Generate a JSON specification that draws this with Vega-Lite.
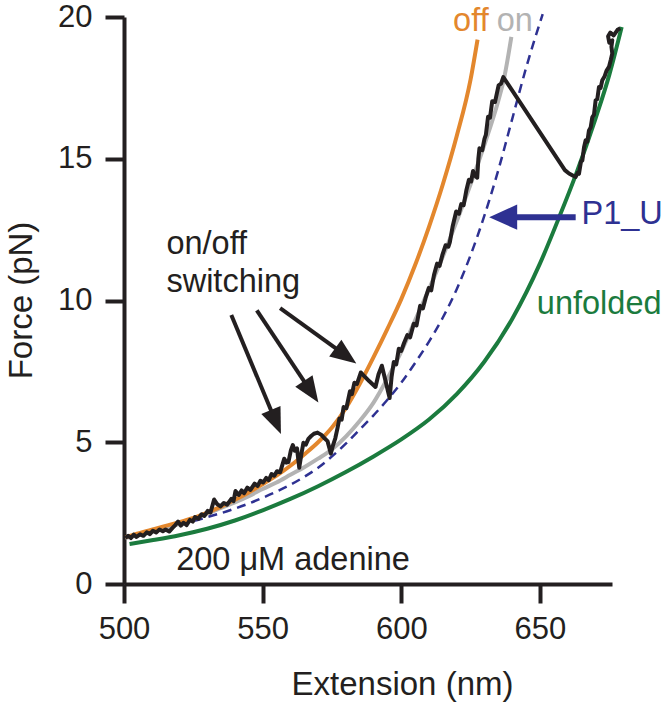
{
  "$schema": "https://vega.github.io/schema/vega-lite/v6.json",
  "width": 488,
  "height": 567,
  "autosize": {"type": "none"},
  "padding": {"left": 124, "top": 17, "right": 55, "bottom": 120},
  "background": "white",
  "config": {
    "view": {"stroke": null},
    "font": "Liberation Sans",
    "axis": {
      "domainColor": "#231f20", "domainWidth": 4, "tickColor": "#231f20", "tickWidth": 4, "tickSize": 19,
      "labelFont": "Liberation Sans", "labelFontSize": 31, "labelColor": "#231f20", "labelFlush": false, "labelOverlap": false,
      "titleFont": "Liberation Sans", "titleFontSize": 33, "titleFontWeight": "normal", "titleColor": "#231f20", "grid": false
    }
  },
  "datasets": {
    "off": [
      {"x": 500.5, "y": 1.65}, {"x": 505, "y": 1.78}, {"x": 510, "y": 1.92}, {"x": 515, "y": 2.05}, {"x": 520, "y": 2.18},
      {"x": 525, "y": 2.33}, {"x": 530, "y": 2.52}, {"x": 535, "y": 2.73}, {"x": 540, "y": 2.97}, {"x": 545, "y": 3.23},
      {"x": 550, "y": 3.52}, {"x": 555, "y": 3.82}, {"x": 560, "y": 4.17}, {"x": 565, "y": 4.57}, {"x": 570, "y": 5.0},
      {"x": 575, "y": 5.52}, {"x": 580, "y": 6.2}, {"x": 585, "y": 7.05}, {"x": 590, "y": 8.0}, {"x": 595, "y": 9.0},
      {"x": 600, "y": 10.05}, {"x": 605, "y": 11.25}, {"x": 610, "y": 12.6}, {"x": 615, "y": 14.1}, {"x": 620, "y": 15.8},
      {"x": 625, "y": 17.8}, {"x": 627.5, "y": 19.2}
    ],
    "on": [
      {"x": 500.5, "y": 1.62}, {"x": 505, "y": 1.72}, {"x": 510, "y": 1.84}, {"x": 515, "y": 1.97}, {"x": 520, "y": 2.12},
      {"x": 525, "y": 2.3}, {"x": 530, "y": 2.48}, {"x": 535, "y": 2.68}, {"x": 540, "y": 2.88}, {"x": 545, "y": 3.1},
      {"x": 550, "y": 3.35}, {"x": 555, "y": 3.58}, {"x": 560, "y": 3.85}, {"x": 565, "y": 4.12}, {"x": 570, "y": 4.42},
      {"x": 575, "y": 4.75}, {"x": 580, "y": 5.2}, {"x": 585, "y": 5.75}, {"x": 590, "y": 6.4}, {"x": 595, "y": 7.25},
      {"x": 600, "y": 8.2}, {"x": 605, "y": 9.3}, {"x": 610, "y": 10.4}, {"x": 615, "y": 11.55}, {"x": 620, "y": 12.8},
      {"x": 625, "y": 14.1}, {"x": 630, "y": 15.5}, {"x": 635, "y": 17.05}, {"x": 637, "y": 17.8}, {"x": 639.7, "y": 19.3}
    ],
    "p1u": [
      {"x": 520, "y": 2.1}, {"x": 525, "y": 2.22}, {"x": 530, "y": 2.36}, {"x": 535, "y": 2.5}, {"x": 540, "y": 2.66},
      {"x": 545, "y": 2.84}, {"x": 550, "y": 3.04}, {"x": 555, "y": 3.26}, {"x": 560, "y": 3.5}, {"x": 565, "y": 3.78},
      {"x": 570, "y": 4.1}, {"x": 575, "y": 4.5}, {"x": 580, "y": 4.95}, {"x": 585, "y": 5.45}, {"x": 590, "y": 5.95},
      {"x": 595, "y": 6.5}, {"x": 600, "y": 7.1}, {"x": 605, "y": 7.8}, {"x": 610, "y": 8.55}, {"x": 615, "y": 9.4},
      {"x": 620, "y": 10.4}, {"x": 625, "y": 11.6}, {"x": 630, "y": 13.0}, {"x": 635, "y": 14.6}, {"x": 640, "y": 16.4},
      {"x": 645, "y": 18.2}, {"x": 651, "y": 20.1}
    ],
    "unfolded": [
      {"x": 502, "y": 1.41}, {"x": 510, "y": 1.54}, {"x": 520, "y": 1.72}, {"x": 530, "y": 1.95}, {"x": 540, "y": 2.24},
      {"x": 550, "y": 2.6}, {"x": 560, "y": 3.0}, {"x": 570, "y": 3.45}, {"x": 580, "y": 3.95}, {"x": 590, "y": 4.5},
      {"x": 600, "y": 5.1}, {"x": 610, "y": 5.8}, {"x": 620, "y": 6.7}, {"x": 630, "y": 7.85}, {"x": 640, "y": 9.35},
      {"x": 650, "y": 11.3}, {"x": 657, "y": 12.95}, {"x": 663, "y": 14.45}, {"x": 670, "y": 16.4}, {"x": 675, "y": 17.95},
      {"x": 679.5, "y": 19.65}
    ],
    "trace": [
      {"x": 500.5, "y": 1.62}, {"x": 501.5, "y": 1.7}, {"x": 502.5, "y": 1.62}, {"x": 503.5, "y": 1.74}, {"x": 504.5, "y": 1.66},
      {"x": 505.8, "y": 1.75}, {"x": 507, "y": 1.7}, {"x": 508.2, "y": 1.82}, {"x": 509.4, "y": 1.76}, {"x": 510.4, "y": 1.88},
      {"x": 511.6, "y": 1.82}, {"x": 512.8, "y": 1.92}, {"x": 514, "y": 1.86}, {"x": 515, "y": 1.92}, {"x": 516.3, "y": 1.85},
      {"x": 517.5, "y": 1.98}, {"x": 518.5, "y": 2.08}, {"x": 519.5, "y": 2.2}, {"x": 520.5, "y": 2.06}, {"x": 521.5, "y": 2.16},
      {"x": 522.6, "y": 2.08}, {"x": 523.8, "y": 2.26}, {"x": 524.8, "y": 2.2}, {"x": 525.6, "y": 2.36}, {"x": 526.8, "y": 2.3},
      {"x": 528, "y": 2.46}, {"x": 529, "y": 2.4}, {"x": 530.2, "y": 2.58}, {"x": 531.2, "y": 2.52}, {"x": 532.5, "y": 2.98},
      {"x": 533.6, "y": 2.82}, {"x": 534.8, "y": 2.74}, {"x": 536, "y": 2.86}, {"x": 537.2, "y": 2.8}, {"x": 538.7, "y": 3.0},
      {"x": 539.5, "y": 2.92}, {"x": 540.2, "y": 3.28}, {"x": 541.4, "y": 3.14}, {"x": 542.4, "y": 3.3}, {"x": 543.3, "y": 3.2},
      {"x": 544.5, "y": 3.4}, {"x": 545.6, "y": 3.32}, {"x": 547.1, "y": 3.54}, {"x": 548.2, "y": 3.46}, {"x": 549.2, "y": 3.64},
      {"x": 550.2, "y": 3.58}, {"x": 551.3, "y": 3.74}, {"x": 552.2, "y": 3.66}, {"x": 553.2, "y": 3.88}, {"x": 554.2, "y": 3.82},
      {"x": 555.2, "y": 3.98}, {"x": 556.3, "y": 3.94}, {"x": 557.8, "y": 4.42}, {"x": 558.5, "y": 4.28}, {"x": 559.3, "y": 4.3},
      {"x": 560.2, "y": 4.72}, {"x": 560.9, "y": 4.9}, {"x": 561.6, "y": 4.7}, {"x": 562.4, "y": 4.78}, {"x": 563.2, "y": 4.1},
      {"x": 564.0, "y": 4.6}, {"x": 564.7, "y": 4.98}, {"x": 565.6, "y": 4.92}, {"x": 566.5, "y": 5.12}, {"x": 567.5, "y": 5.22},
      {"x": 568.5, "y": 5.3}, {"x": 569.8, "y": 5.34}, {"x": 571.2, "y": 5.26}, {"x": 572.5, "y": 5.12}, {"x": 573.4, "y": 5.04},
      {"x": 574.6, "y": 4.6}, {"x": 575.4, "y": 4.9}, {"x": 576.2, "y": 5.14}, {"x": 577.0, "y": 5.5}, {"x": 577.7, "y": 5.84},
      {"x": 578.5, "y": 5.8}, {"x": 579.2, "y": 6.24}, {"x": 580.2, "y": 6.2}, {"x": 581.5, "y": 6.8}, {"x": 582.2, "y": 6.7},
      {"x": 583.1, "y": 7.1}, {"x": 584.0, "y": 7.05}, {"x": 585.4, "y": 7.46}, {"x": 586.2, "y": 7.38}, {"x": 588.5, "y": 7.15},
      {"x": 590.7, "y": 6.95}, {"x": 591.8, "y": 7.4}, {"x": 593.0, "y": 7.7}, {"x": 595.8, "y": 6.56}, {"x": 596.5, "y": 7.3},
      {"x": 597.3, "y": 7.83}, {"x": 598.2, "y": 7.75}, {"x": 599.1, "y": 8.3}, {"x": 600.0, "y": 8.22}, {"x": 601.0, "y": 8.5},
      {"x": 602.2, "y": 8.78}, {"x": 603.2, "y": 8.7}, {"x": 604.5, "y": 9.18}, {"x": 605.5, "y": 9.12}, {"x": 606.8, "y": 9.81},
      {"x": 607.8, "y": 9.72}, {"x": 608.8, "y": 10.1}, {"x": 609.9, "y": 10.44}, {"x": 610.8, "y": 10.36}, {"x": 611.8, "y": 10.9},
      {"x": 612.9, "y": 11.3}, {"x": 613.8, "y": 11.22}, {"x": 614.8, "y": 11.6}, {"x": 616.0, "y": 11.95}, {"x": 617.0, "y": 11.9},
      {"x": 617.5, "y": 12.05}, {"x": 618.5, "y": 12.6}, {"x": 619.8, "y": 13.14}, {"x": 620.8, "y": 13.06}, {"x": 621.6, "y": 13.4},
      {"x": 622.5, "y": 13.36}, {"x": 623.5, "y": 13.9}, {"x": 624.4, "y": 14.26}, {"x": 625.2, "y": 14.2}, {"x": 625.9, "y": 14.57},
      {"x": 626.6, "y": 14.4}, {"x": 627.4, "y": 14.33}, {"x": 627.8, "y": 15.0}, {"x": 628.2, "y": 15.37}, {"x": 629.2, "y": 15.3},
      {"x": 630.0, "y": 15.7}, {"x": 630.5, "y": 15.84}, {"x": 631.3, "y": 16.48}, {"x": 632.0, "y": 16.45}, {"x": 632.8, "y": 17.03},
      {"x": 633.8, "y": 17.0}, {"x": 635.1, "y": 17.59}, {"x": 636.0, "y": 17.65}, {"x": 636.8, "y": 17.88}, {"x": 659.0, "y": 14.6},
      {"x": 660.5, "y": 14.48}, {"x": 662.0, "y": 14.4}, {"x": 662.9, "y": 14.36}, {"x": 663.6, "y": 14.5}, {"x": 664.1, "y": 14.47},
      {"x": 664.8, "y": 14.9}, {"x": 665.3, "y": 14.94}, {"x": 665.9, "y": 15.4}, {"x": 666.5, "y": 15.65}, {"x": 667.1, "y": 15.6},
      {"x": 667.7, "y": 16.0}, {"x": 668.3, "y": 16.1}, {"x": 668.9, "y": 16.47}, {"x": 669.5, "y": 16.55}, {"x": 670.1, "y": 17.06},
      {"x": 670.7, "y": 17.1}, {"x": 671.3, "y": 17.53}, {"x": 671.9, "y": 17.5}, {"x": 672.5, "y": 17.77}, {"x": 673.3, "y": 17.9},
      {"x": 674.0, "y": 18.1}, {"x": 674.9, "y": 18.24}, {"x": 675.6, "y": 18.5}, {"x": 676.1, "y": 18.71}, {"x": 675.8, "y": 18.95},
      {"x": 676.1, "y": 19.18}, {"x": 675.0, "y": 19.1}, {"x": 674.6, "y": 19.32}, {"x": 675.4, "y": 19.45}, {"x": 676.6, "y": 19.35},
      {"x": 678.0, "y": 19.55}, {"x": 679.0, "y": 19.6}
    ],
    "shafts": [
      {"id": "a1", "x": 538.7, "y": 9.49, "x2": 555.2, "y2": 5.62},
      {"id": "a2", "x": 547.9, "y": 9.65, "x2": 568.1, "y2": 6.69},
      {"id": "a3", "x": 556.3, "y": 9.73, "x2": 580.9, "y2": 7.99},
      {"id": "b", "x": 662.9, "y": 12.94, "x2": 638.0, "y2": 12.94}
    ],
    "heads": [
      {"id": "a1", "x": 556.6, "y": 5.29},
      {"id": "a2", "x": 570.1, "y": 6.4},
      {"id": "a3", "x": 583.8, "y": 7.78},
      {"id": "b", "x": 631.7, "y": 12.94}
    ],
    "labels": [
      {"k": "off", "t": "off", "x": 618.7, "y": 19.49},
      {"k": "on", "t": "on", "x": 634.4, "y": 19.49},
      {"k": "P1_U", "t": "P1_U", "x": 665.0, "y": 12.7},
      {"k": "unfolded", "t": "unfolded", "x": 648.9, "y": 9.54},
      {"k": "note", "t": "on/off", "x": 515.3, "y": 11.64},
      {"k": "note", "t": "switching", "x": 515.3, "y": 10.29},
      {"k": "note", "t": "200 μM adenine", "x": 518.8, "y": 0.5}
    ]
  },
  "encoding": {
    "x": {
      "field": "x", "type": "quantitative",
      "scale": {"domain": [500, 676], "nice": false, "zero": false},
      "axis": {"title": "Extension (nm)", "values": [500, 550, 600, 650], "labelPadding": 11,
               "titleX": 278, "titleY": 110, "titleBaseline": "alphabetic", "titleAlign": "center"}
    },
    "y": {
      "field": "y", "type": "quantitative",
      "scale": {"domain": [0, 20], "nice": false},
      "axis": {"title": "Force (pN)", "values": [0, 5, 10, 15, 20], "labelPadding": 13,
               "titleX": -93, "titleY": 283, "titleAngle": -90, "titleBaseline": "alphabetic", "titleAlign": "center"}
    }
  },
  "layer": [
    {"data": {"name": "unfolded"}, "mark": {"type": "line", "color": "#1b7b3e", "strokeWidth": 4, "interpolate": "monotone"}},
    {"data": {"name": "p1u"}, "mark": {"type": "line", "color": "#2e3192", "strokeWidth": 2.5, "strokeDash": [9, 6], "interpolate": "monotone"}},
    {"data": {"name": "on"}, "mark": {"type": "line", "color": "#b3b3b3", "strokeWidth": 4, "interpolate": "monotone"}},
    {"data": {"name": "off"}, "mark": {"type": "line", "color": "#e3872d", "strokeWidth": 4, "interpolate": "monotone"}},
    {"data": {"name": "trace"}, "mark": {"type": "line", "color": "#231f20", "strokeWidth": 4, "strokeJoin": "round"},
     "encoding": {"order": {"value": null}}},
    {"data": {"name": "shafts"}, "transform": [{"filter": "datum.id != 'b'"}],
     "mark": {"type": "rule", "color": "#231f20", "strokeWidth": 4},
     "encoding": {"x2": {"field": "x2"}, "y2": {"field": "y2"}}},
    {"data": {"name": "shafts"}, "transform": [{"filter": "datum.id == 'b'"}],
     "mark": {"type": "rule", "color": "#2e3192", "strokeWidth": 6},
     "encoding": {"x2": {"field": "x2"}, "y2": {"field": "y2"}}},
    {"data": {"name": "heads"}, "transform": [{"filter": "datum.id == 'a1'"}],
     "mark": {"type": "point", "shape": "M0,0L-0.8,2L0.8,2Z", "filled": true, "size": 676, "angle": 157.3, "color": "#231f20", "opacity": 1, "strokeWidth": 0}},
    {"data": {"name": "heads"}, "transform": [{"filter": "datum.id == 'a2'"}],
     "mark": {"type": "point", "shape": "M0,0L-0.8,2L0.8,2Z", "filled": true, "size": 676, "angle": 146.2, "color": "#231f20", "opacity": 1, "strokeWidth": 0}},
    {"data": {"name": "heads"}, "transform": [{"filter": "datum.id == 'a3'"}],
     "mark": {"type": "point", "shape": "M0,0L-0.8,2L0.8,2Z", "filled": true, "size": 676, "angle": 125.9, "color": "#231f20", "opacity": 1, "strokeWidth": 0}},
    {"data": {"name": "heads"}, "transform": [{"filter": "datum.id == 'b'"}],
     "mark": {"type": "point", "shape": "M0,0L-0.9,2L0.9,2Z", "filled": true, "size": 784, "angle": 270, "color": "#2e3192", "opacity": 1, "strokeWidth": 0}},
    {"data": {"name": "labels"},
     "mark": {"type": "text", "align": "left", "baseline": "alphabetic", "fontSize": 32.5, "font": "Liberation Sans"},
     "encoding": {
       "text": {"field": "t"},
       "color": {"field": "k", "type": "nominal", "legend": null,
                 "scale": {"domain": ["off", "on", "P1_U", "unfolded", "note"],
                           "range": ["#e3872d", "#b3b3b3", "#2e3192", "#1b7b3e", "#231f20"]}}
     }}
  ]
}
